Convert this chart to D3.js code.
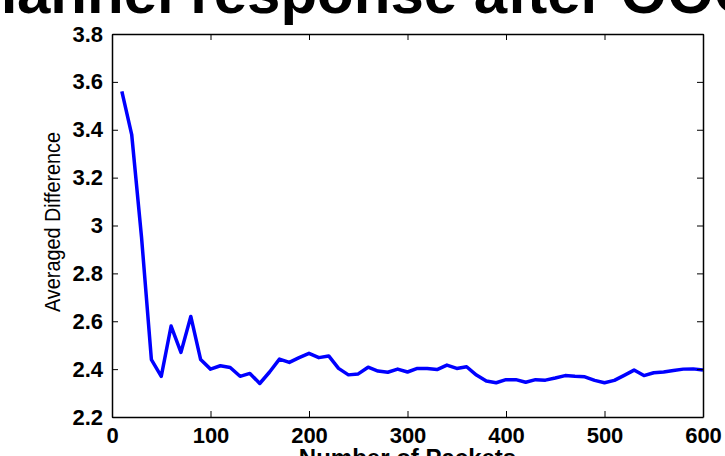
<!DOCTYPE html>
<html>
<head>
<meta charset="utf-8">
<script src="https://cdn.jsdelivr.net/npm/d3@7"></script>
<style>
  body { margin: 0; background: #fff; }
  svg { display: block; }
  text { font-family: "Liberation Sans", Arial, sans-serif; }
</style>
</head>
<body>
<figure id="linechart" style="margin:0"></figure>
<script>
// packets sent (x) and averaged difference (y)
const packets = d3.range(10, 601, 10);
const avgDiff = [
  3.56, 3.38, 2.95, 2.44, 2.37, 2.58, 2.47, 2.62, 2.44, 2.40,
  2.414, 2.407, 2.37, 2.382, 2.34, 2.388, 2.442, 2.428, 2.448, 2.466,
  2.448, 2.455, 2.403, 2.376, 2.38, 2.408, 2.392, 2.387, 2.40, 2.388,
  2.403, 2.403, 2.398, 2.417, 2.403, 2.41, 2.375, 2.35, 2.343, 2.356,
  2.356, 2.345, 2.356, 2.354, 2.363, 2.373, 2.37, 2.368, 2.353, 2.343,
  2.353, 2.374, 2.396, 2.373, 2.385, 2.388, 2.394, 2.40, 2.401, 2.396
];
const xTicks = [0, 100, 200, 300, 400, 500, 600];
const yTicks = [2.2, 2.4, 2.6, 2.8, 3.0, 3.2, 3.4, 3.6, 3.8];
const titleText = "Channel response after OOO";
const xLabel = "Number of Packets";
const yLabel = "Averaged Difference";

const W = 725, H = 456;
const plotLeft = 112, plotRight = 703, plotTop = 34, plotBottom = 417;

const svg = d3.select("figure#linechart")
  .append("svg")
  .attr("width", W)
  .attr("height", H);

const x = d3.scaleLinear().domain([0, 600]).range([plotLeft, plotRight]);
const y = d3.scaleLinear().domain([2.2, 3.8]).range([plotBottom, plotTop]);

// title, mostly cut off at the top
svg.append("text")
  .attr("x", -63)
  .attr("y", 13)
  .style("font-size", "60px")
  .style("font-weight", "bold")
  .text(titleText);

// the data line
const line = d3.line()
  .x((d, i) => x(packets[i]))
  .y(d => y(d));

svg.append("path")
  .datum(avgDiff)
  .attr("fill", "none")
  .attr("stroke", "#0000ff")
  .attr("stroke-width", 3.5)
  .attr("stroke-linejoin", "round")
  .attr("d", line);

// axes, matlab style: ticks inside on every side
const tickLen = 6;
const axisStyle = g => {
  g.select(".domain").attr("stroke", "#000").attr("stroke-width", 1.5);
  g.selectAll(".tick line").attr("stroke", "#000").attr("stroke-width", 1);
  g.selectAll("text")
    .attr("fill", "#000")
    .style("font-size", "22px")
    .style("font-weight", "bold")
    .style("font-family", "'Liberation Sans', Arial, sans-serif");
};

svg.append("g")
  .attr("transform", `translate(0,${plotBottom})`)
  .call(d3.axisBottom(x).tickValues(xTicks).tickSizeInner(-tickLen).tickSizeOuter(0).tickPadding(10).tickFormat(d3.format("d")))
  .call(axisStyle);

svg.append("g")
  .attr("transform", `translate(0,${plotTop})`)
  .call(d3.axisTop(x).tickValues(xTicks).tickSizeInner(-tickLen).tickSizeOuter(0).tickFormat(""))
  .call(axisStyle);

svg.append("g")
  .attr("transform", `translate(${plotLeft},0)`)
  .call(d3.axisLeft(y).tickValues(yTicks).tickSizeInner(-tickLen).tickSizeOuter(0).tickPadding(9).tickFormat(d3.format("~g")))
  .call(axisStyle);

svg.append("g")
  .attr("transform", `translate(${plotRight},0)`)
  .call(d3.axisRight(y).tickValues(yTicks).tickSizeInner(-tickLen).tickSizeOuter(0).tickFormat(""))
  .call(axisStyle);

// axis labels
svg.append("text")
  .attr("text-anchor", "middle")
  .attr("x", (plotLeft + plotRight) / 2)
  .attr("y", 466)
  .style("font-size", "24px")
  .style("font-weight", "bold")
  .text(xLabel);

svg.append("text")
  .attr("text-anchor", "middle")
  .attr("transform", "rotate(-90)")
  .attr("x", -222)
  .attr("y", 60)
  .attr("textLength", 180)
  .attr("lengthAdjust", "spacingAndGlyphs")
  .style("font-size", "22px")
  .text(yLabel);
</script>
</body>
</html>
